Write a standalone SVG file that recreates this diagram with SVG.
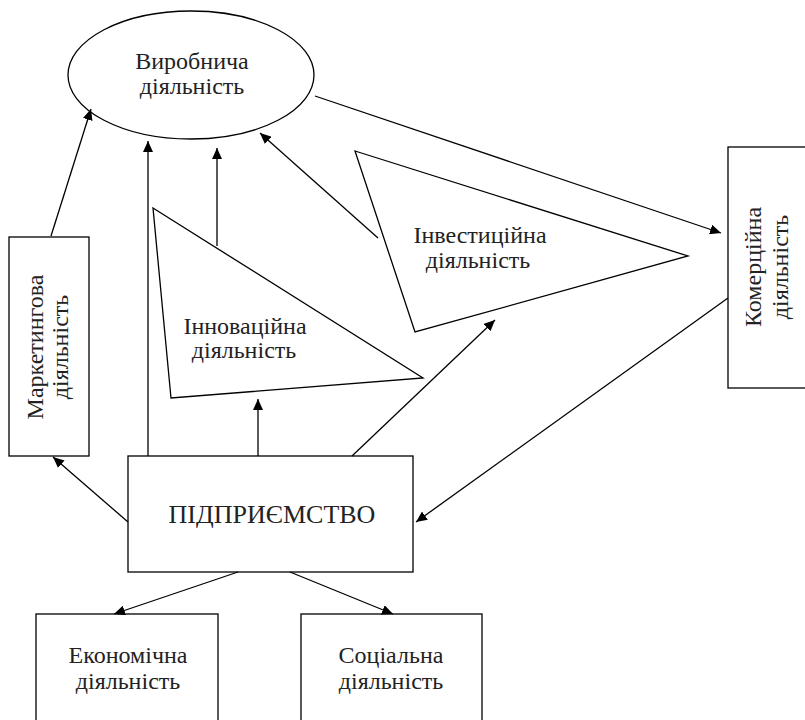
<svg xmlns="http://www.w3.org/2000/svg" width="805" height="720" viewBox="0 0 805 720">
<style>
.s{fill:#fff;stroke:#000;stroke-width:1.3}
.c{fill:none;stroke:#000;stroke-width:1.3}
.t{font-family:"Liberation Serif","Times New Roman","DejaVu Serif",serif;font-size:24px;fill:#222;text-anchor:middle}
</style>
<defs>
<marker id="a" viewBox="0 0 11 10" refX="11" refY="5" markerWidth="11" markerHeight="10" markerUnits="userSpaceOnUse" orient="auto">
<path d="M0,0 L11,5 L0,10 z" fill="#000"/>
</marker>
</defs>
<rect width="805" height="720" fill="#fff"/>
<g id="vyrobnycha">
<ellipse class="s" cx="191" cy="75" rx="123" ry="64"/>
<text class="t" x="192" y="69">Виробнича</text>
<text class="t" x="192" y="94">діяльність</text>
</g>
<g id="innovatsiyna">
<polygon class="s" points="153,208 423,378 171,398"/>
<text class="t" x="245" y="334">Інноваційна</text>
<text class="t" x="244" y="358">діяльність</text>
</g>
<g id="investytsiyna">
<polygon class="s" points="355,151 688,256 415,332"/>
<text class="t" x="480" y="243">Інвестиційна</text>
<text class="t" x="478" y="268">діяльність</text>
</g>
<g id="marketyngova">
<rect class="s" x="9" y="237" width="80" height="219"/>
<text class="t" transform="translate(43,347) rotate(-90)">Маркетингова</text>
<text class="t" transform="translate(68,347) rotate(-90)">діяльність</text>
</g>
<g id="komertsiyna">
<rect class="s" x="728" y="147" width="90" height="241"/>
<text class="t" transform="translate(761,267) rotate(-90)">Комерційна</text>
<text class="t" transform="translate(788,267) rotate(-90)">діяльність</text>
</g>
<g id="pidpryiemstvo">
<rect class="s" x="128" y="456" width="285" height="116"/>
<text class="t" x="272" y="523" style="font-size:26px">ПІДПРИЄМСТВО</text>
</g>
<g id="ekonomichna">
<rect class="s" x="36" y="614" width="182" height="120"/>
<text class="t" x="128" y="663">Економічна</text>
<text class="t" x="128" y="689">діяльність</text>
</g>
<g id="sotsialna">
<rect class="s" x="301" y="614" width="181" height="120"/>
<text class="t" x="391" y="663">Соціальна</text>
<text class="t" x="391" y="689">діяльність</text>
</g>
<g id="connectors">
<line class="c" x1="51" y1="236" x2="91" y2="109" marker-end="url(#a)"/>
<line class="c" x1="148" y1="456" x2="148" y2="141" marker-end="url(#a)"/>
<line class="c" x1="217" y1="246" x2="217" y2="148" marker-end="url(#a)"/>
<line class="c" x1="378" y1="238" x2="260" y2="133" marker-end="url(#a)"/>
<line class="c" x1="315" y1="96" x2="721" y2="233" marker-end="url(#a)"/>
<line class="c" x1="728" y1="298" x2="416" y2="522" marker-end="url(#a)"/>
<line class="c" x1="352" y1="456" x2="495" y2="320" marker-end="url(#a)"/>
<line class="c" x1="258" y1="456" x2="258" y2="399" marker-end="url(#a)"/>
<line class="c" x1="128" y1="522" x2="53" y2="457" marker-end="url(#a)"/>
<line class="c" x1="238" y1="572" x2="114" y2="614" marker-end="url(#a)"/>
<line class="c" x1="290" y1="572" x2="393" y2="614" marker-end="url(#a)"/>
</g>
</svg>
